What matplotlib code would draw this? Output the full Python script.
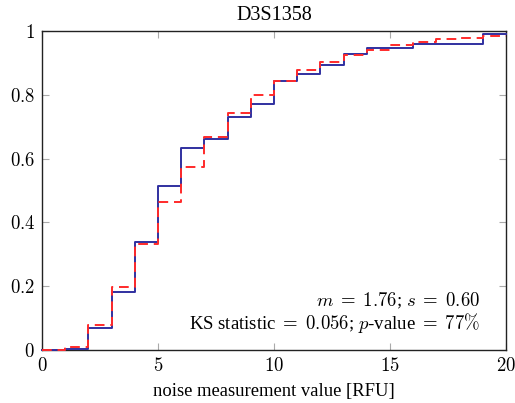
import matplotlib
matplotlib.use("Agg")
import matplotlib.pyplot as plt
import numpy as np

plt.rcParams['font.family'] = ['Liberation Serif', 'DejaVu Serif']
plt.rcParams['mathtext.fontset'] = 'cm'

# step edges (value holds on [x, next x))
x_edges = [0, 1, 2, 3, 4, 5, 6, 7, 8, 9, 10, 11, 12, 13, 14, 15, 16, 17, 18, 19, 20]
empirical = [0.0, 0.004, 0.069, 0.182, 0.337, 0.513, 0.632, 0.660, 0.731, 0.772,
             0.843, 0.865, 0.892, 0.929, 0.946, 0.946, 0.958, 0.960, 0.960, 0.991, 0.991]
fitted = [0.0, 0.010, 0.078, 0.198, 0.333, 0.464, 0.575, 0.668, 0.742, 0.799,
          0.843, 0.877, 0.903, 0.925, 0.941, 0.956, 0.965, 0.975, 0.977, 0.985, 0.985]

title = "D3S1358"
xlabel = "noise measurement value [RFU]"
xticks = [0, 5, 10, 15, 20]
yticks = [0, 0.2, 0.4, 0.6, 0.8, 1]
ytick_labels = ["0", "0.2", "0.4", "0.6", "0.8", "1"]
annot1 = r"$m$ $=$ $1.76$; $s$ $=$ $0.60$"
annot2 = r"KS statistic $=$ $0.056$; $p$-value $=$ $77\%$"

fig = plt.figure(figsize=(5.15, 4.03), dpi=100)
ax = fig.add_axes([42/515, (403-350)/403, (506-42)/515, (350-31)/403])

ax.step(x_edges, empirical, where='post', color='#3030a0', lw=1.4, zorder=3, clip_on=False)
ax.step(x_edges, fitted, where='post', color='#ff2a2a', lw=1.4, ls=(0, (5, 3)), zorder=4, clip_on=False)

ax.set_xlim(0, 20)
ax.set_ylim(0, 1)
ax.set_xticks(xticks)
ax.set_xticklabels([f"${v}$" for v in xticks])
ax.set_yticks(yticks)
ax.set_yticklabels([f"${v}$" for v in ytick_labels])
ax.tick_params(direction='in', top=True, right=True, length=5, width=0.8,
               color='#aaaaaa', labelsize=13.5, pad=5)
for s in ax.spines.values():
    s.set_linewidth(1.0)
    s.set_color('#222222')

ax.set_title(title, fontsize=14.5, pad=8)
ax.set_xlabel(xlabel, fontsize=13.4, labelpad=6)

ax.text(0.945, 0.155, annot1, transform=ax.transAxes, ha='right', va='center', fontsize=13.5)
ax.text(0.945, 0.085, annot2, transform=ax.transAxes, ha='right', va='center', fontsize=13.5)

fig.savefig("out.png", dpi=100)
